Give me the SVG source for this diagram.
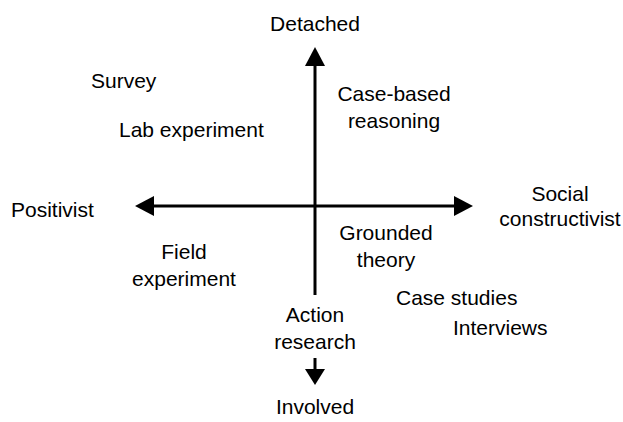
<svg xmlns="http://www.w3.org/2000/svg" width="623" height="422" viewBox="0 0 623 422">
  <style>
    text { font-family: "Liberation Sans", Arial, sans-serif; font-size: 21px; fill: #000; }
    .mid { text-anchor: middle; }
    .axis { stroke: #000; stroke-width: 3; fill: none; }
    .head { fill: #000; stroke: none; }
  </style>
  <rect width="623" height="422" fill="#fff"/>

  <!-- axes -->
  <g id="connectors">
    <line class="axis" x1="315" y1="64" x2="315" y2="295"/>
    <polygon class="head" points="315,47 305,66 325,66"/>
    <line class="axis" x1="315" y1="358" x2="315" y2="371"/>
    <polygon class="head" points="315,385 305,369 325,369"/>
    <line class="axis" x1="152" y1="206" x2="455" y2="206"/>
    <polygon class="head" points="135,206 154,196 154,216"/>
    <polygon class="head" points="473,206 454,196 454,216"/>
  </g>

  <!-- axis poles -->
  <g id="detached"><text class="mid" x="315" y="31">Detached</text></g>
  <g id="involved"><text class="mid" x="315" y="414">Involved</text></g>
  <g id="positivist"><text x="11" y="217">Positivist</text></g>
  <g id="social-constructivist">
    <text class="mid" x="560" y="201">Social</text>
    <text class="mid" x="560" y="226">constructivist</text>
  </g>

  <!-- methods -->
  <g id="survey"><text x="91" y="88">Survey</text></g>
  <g id="lab-experiment"><text x="119" y="137">Lab experiment</text></g>
  <g id="case-based-reasoning">
    <text class="mid" x="394" y="101">Case-based</text>
    <text class="mid" x="394" y="128">reasoning</text>
  </g>
  <g id="field-experiment">
    <text class="mid" x="184" y="259">Field</text>
    <text class="mid" x="184" y="286">experiment</text>
  </g>
  <g id="grounded-theory">
    <text class="mid" x="386" y="240">Grounded</text>
    <text class="mid" x="386" y="267">theory</text>
  </g>
  <g id="case-studies"><text x="396" y="305">Case studies</text></g>
  <g id="interviews"><text x="453" y="335">Interviews</text></g>
  <g id="action-research">
    <text class="mid" x="315" y="322">Action</text>
    <text class="mid" x="315" y="349">research</text>
  </g>
</svg>
